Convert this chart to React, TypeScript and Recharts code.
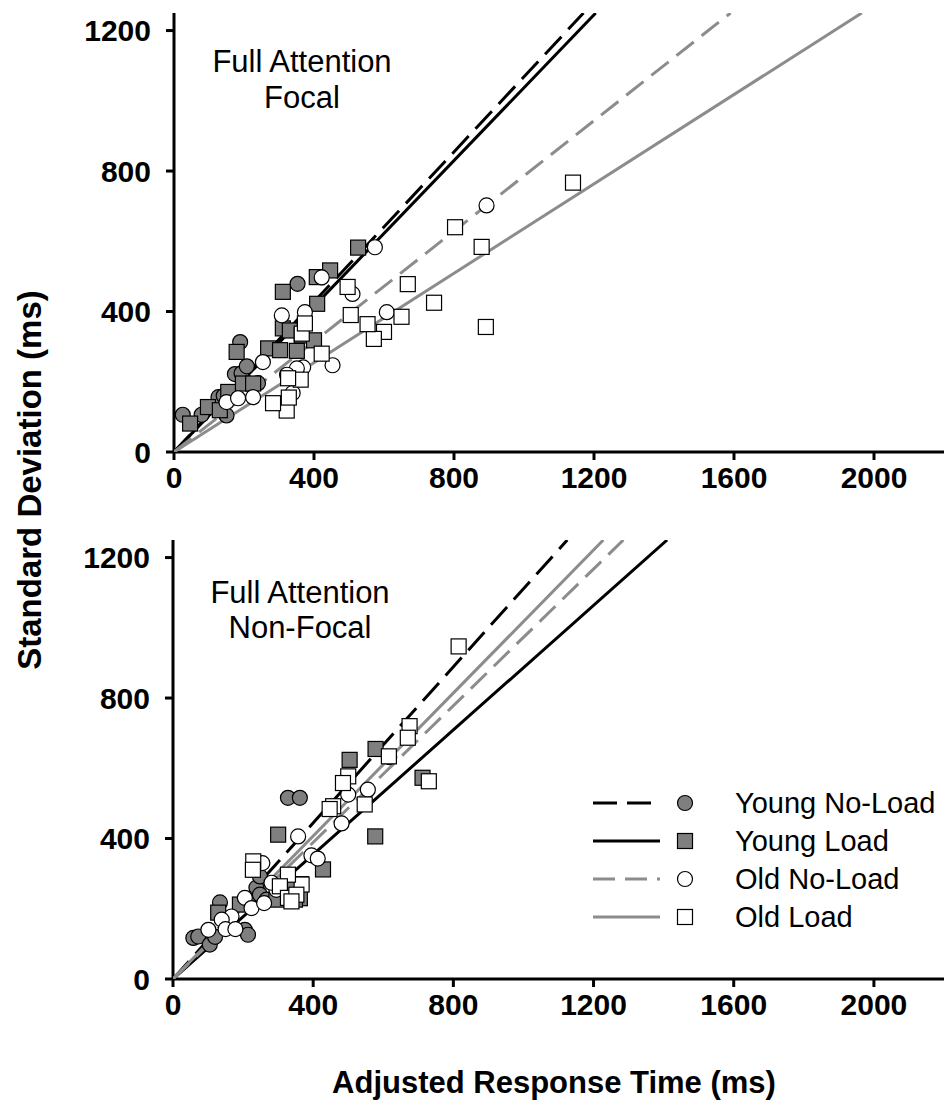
import { ScatterChart, Scatter, XAxis, YAxis } from 'recharts'

type Pt = [number, number]

const FONT = '"Liberation Sans", Arial, sans-serif'

const xTicks = [0, 400, 800, 1200, 1600, 2000]
const yTicks = [0, 400, 800, 1200]
const seriesNames = ['Young No-Load', 'Young Load', 'Old No-Load', 'Old Load']

// Full Attention, Focal
const focalYoungNoLoad: Pt[] = [
  [25, 106], [79, 106], [127, 156], [142, 160], [150, 104], [174, 222],
  [193, 224], [208, 244], [189, 313], [240, 196], [353, 479],
]
const focalYoungLoad: Pt[] = [
  [46, 81], [97, 128], [131, 119], [155, 171], [197, 195], [226, 195],
  [179, 285], [269, 295], [303, 290], [351, 288], [311, 352], [331, 346],
  [365, 332], [400, 318], [409, 422], [311, 456], [408, 498], [446, 517], [526, 582],
]
const focalOldNoLoad: Pt[] = [
  [150, 142], [183, 153], [226, 156], [254, 256], [308, 389], [374, 398],
  [422, 497], [510, 450], [574, 583], [608, 398], [893, 702], [453, 247],
  [369, 241], [351, 238], [323, 220], [339, 168],
]
const focalOldLoad: Pt[] = [
  [1140, 767], [803, 640], [879, 584], [668, 478], [743, 425], [891, 356],
  [650, 385], [600, 342], [571, 322], [553, 364], [505, 390], [496, 470],
  [422, 280], [362, 206], [322, 118], [283, 139], [328, 155], [365, 337],
  [374, 366], [326, 210],
]

// Full Attention, Non-Focal
const nonFocalYoungNoLoad: Pt[] = [
  [58, 117], [72, 121], [105, 98], [120, 120], [134, 218], [139, 175],
  [205, 140], [214, 126], [238, 260], [248, 292], [248, 240], [267, 226],
  [328, 516], [362, 516],
]
const nonFocalYoungLoad: Pt[] = [
  [504, 624], [578, 655], [712, 573], [577, 406], [428, 312], [365, 270],
  [300, 411], [357, 262], [362, 230], [348, 226], [295, 226], [191, 212],
  [162, 169], [129, 189], [328, 269],
]
const nonFocalOldNoLoad: Pt[] = [
  [617, 632], [556, 539], [500, 525], [481, 443], [395, 352], [413, 343],
  [357, 406], [255, 330], [205, 231], [224, 202], [260, 216], [295, 254],
  [281, 274], [167, 178], [139, 169], [150, 142], [178, 142], [101, 140],
]
const nonFocalOldLoad: Pt[] = [
  [815, 947], [675, 720], [670, 687], [616, 634], [730, 563], [547, 497],
  [457, 492], [447, 484], [500, 577], [485, 558], [367, 269], [229, 335],
  [228, 311], [328, 297], [305, 264], [328, 231], [352, 240], [338, 221],
]

// regression lines run from the origin up to SD = 1250 at these RTs
const FIT_TOP = 1250
const focalFitEndX = [1170, 1205, 1590, 1965]
const nonFocalFitEndX = [1125, 1410, 1285, 1228]

const styles = [
  { line: '#000000', dash: '24 10', fill: '#7f7f7f', marker: 'circle' },
  { line: '#000000', dash: undefined, fill: '#7f7f7f', marker: 'square' },
  { line: '#8c8c8c', dash: '22 10', fill: '#ffffff', marker: 'circle' },
  { line: '#8c8c8c', dash: undefined, fill: '#ffffff', marker: 'square' },
]

const toObj = (pts: Pt[]) => pts.map(([x, y]) => ({ x, y }))

const marker = (kind: string, fill: string) => (p: any) =>
  kind === 'circle' ? (
    <circle cx={p.cx} cy={p.cy} r={7.5} fill={fill} stroke="#000" strokeWidth={1.2} />
  ) : (
    <rect x={p.cx - 7.5} y={p.cy - 7.5} width={15} height={15} fill={fill} stroke="#000" strokeWidth={1.2} />
  )

const tickStyle = { fill: '#000', fontSize: 30, fontWeight: 'bold' as const, fontFamily: FONT }

function Panel({ top, left, groups, fitEnds }: { top: number; left: number; groups: Pt[][]; fitEnds: number[] }) {
  return (
    <div style={{ position: 'absolute', left: 0, top }}>
      <ScatterChart width={947} height={510} margin={{ top: 13, right: 3, left, bottom: 0 }}>
        <XAxis
          type="number"
          dataKey="x"
          domain={[0, 2200]}
          ticks={xTicks}
          allowDataOverflow
          height={58}
          tick={tickStyle}
          tickSize={8}
          tickMargin={7}
          axisLine={{ stroke: '#000', strokeWidth: 3 }}
          tickLine={{ stroke: '#000', strokeWidth: 3 }}
        />
        <YAxis
          type="number"
          dataKey="y"
          domain={[0, 1250]}
          ticks={yTicks}
          allowDataOverflow
          width={100}
          tick={tickStyle}
          tickSize={8}
          tickMargin={15}
          axisLine={{ stroke: '#000', strokeWidth: 3 }}
          tickLine={{ stroke: '#000', strokeWidth: 3 }}
        />
        {fitEnds.map((end, i) => (
          <Scatter
            key={'fit' + i}
            data={[{ x: 0, y: 0 }, { x: end, y: FIT_TOP }]}
            line={{ stroke: styles[i].line, strokeWidth: 3, strokeDasharray: styles[i].dash }}
            shape={() => <g />}
            isAnimationActive={false}
          />
        ))}
        {groups.map((pts, i) => (
          <Scatter
            key={'pts' + i}
            name={seriesNames[i]}
            data={toObj(pts)}
            shape={marker(styles[i].marker, styles[i].fill)}
            isAnimationActive={false}
          />
        ))}
      </ScatterChart>
    </div>
  )
}

const legendRows = [803, 841, 879, 917]

export default function App() {
  return (
    <div style={{ position: 'absolute', left: 0, top: 0, width: 947, height: 1113, background: '#fff' }}>
      <Panel
        top={0}
        left={74}
        groups={[focalYoungNoLoad, focalYoungLoad, focalOldNoLoad, focalOldLoad]}
        fitEnds={focalFitEndX}
      />
      <Panel
        top={527}
        left={73}
        groups={[nonFocalYoungNoLoad, nonFocalYoungLoad, nonFocalOldNoLoad, nonFocalOldLoad]}
        fitEnds={nonFocalFitEndX}
      />
      <svg
        width={947}
        height={1113}
        style={{ position: 'absolute', left: 0, top: 0, pointerEvents: 'none' }}
        fontFamily={FONT}
      >
        <text x={302} y={72} fontSize={31} textAnchor="middle">Full Attention</text>
        <text x={302} y={108} fontSize={31} textAnchor="middle">Focal</text>
        <text x={300} y={603} fontSize={31} textAnchor="middle">Full Attention</text>
        <text x={300} y={638} fontSize={31} textAnchor="middle">Non-Focal</text>

        <text x={554} y={1093} fontSize={31} fontWeight="bold" textAnchor="middle">
          Adjusted Response Time (ms)
        </text>
        <text
          x={0}
          y={0}
          fontSize={33}
          fontWeight="bold"
          textAnchor="middle"
          transform="translate(41 480) rotate(-90)"
        >
          Standard Deviation (ms)
        </text>

        {seriesNames.map((name, i) => {
          const y = legendRows[i]
          const s = styles[i]
          return (
            <g key={name}>
              <line x1={593} x2={660} y1={y} y2={y} stroke={s.line} strokeWidth={3} strokeDasharray={s.dash} />
              {s.marker === 'circle' ? (
                <circle cx={685} cy={y} r={7.5} fill={s.fill} stroke="#000" strokeWidth={1.2} />
              ) : (
                <rect x={677.5} y={y - 7.5} width={15} height={15} fill={s.fill} stroke="#000" strokeWidth={1.2} />
              )}
              <text x={735} y={y} fontSize={29} dominantBaseline="central">{name}</text>
            </g>
          )
        })}
      </svg>
    </div>
  )
}
